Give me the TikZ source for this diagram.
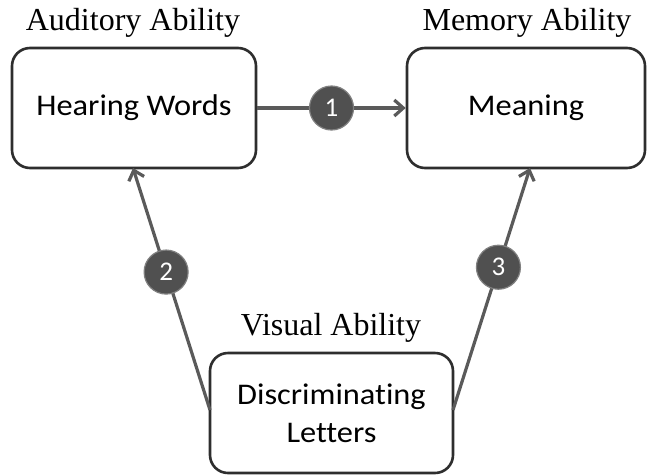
\documentclass[tikz,border=0pt]{standalone}
\usepackage{fontspec}
\setmainfont{Liberation Serif}
\newfontfamily\boxfont[FakeStretch=1.08,Ligatures=NoCommon]{Carlito}
\newfontfamily\numfont{Carlito}
\usetikzlibrary{arrows.meta,calc}
\definecolor{arrowgray}{HTML}{5A5A5A}
\definecolor{boxline}{HTML}{2E2E2E}
\definecolor{circfill}{HTML}{505050}
\begin{document}
\begin{tikzpicture}[x=1pt,y=-1pt,
  abox/.style={draw=boxline, line width=2.6pt, rounded corners=18pt, fill=white, align=center, font=\boxfont\fontsize{30}{38}\selectfont, inner sep=0pt},
  lab/.style={font=\fontsize{32}{36}\selectfont, inner sep=0pt, anchor=base},
  conn/.style={draw=arrowgray, line width=3.2pt, -{Straight Barb[length=9pt,width=16pt,line width=3.2pt]}},
  num/.style={circle, fill=circfill, draw=gray, line width=1.2pt, minimum size=44pt, inner sep=0pt, text=white, font=\numfont\fontsize{27}{29}\selectfont}]
\useasboundingbox (0,0) rectangle (647,474);
\fill[white] (0,0) rectangle (647,474);
\node[abox, minimum width=244pt, minimum height=120pt] (hw) at (134,108) {Hearing Words};
\node[abox, minimum width=238pt, minimum height=120pt] (mn) at (526,108) {Meaning};
\node[abox, minimum width=243pt, minimum height=120pt] (dl) at (331.5,413) {Discriminating\\Letters};
\node[lab] (la) at (133,30) {Auditory Ability};
\node[lab] (lm) at (527,30) {Memory Ability};
\node[lab] (lv) at (331,335) {Visual Ability};
\coordinate (d2) at (210,410);
\coordinate (h2) at (133,168);
\coordinate (d3) at (453,410);
\coordinate (m3) at (530,168);
\draw[conn] (hw.east) -- (mn.west) node[num, pos=0.5] (n1) {1};
\draw[conn] (d2) -- (h2);
\draw[conn] (d3) -- (m3);
\node[num] (n2) at ($(d2)!0.57!(h2)$) {2};
\node[num] (n3) at ($(d3)!0.59!(m3)$) {3};
\end{tikzpicture}
\end{document}
